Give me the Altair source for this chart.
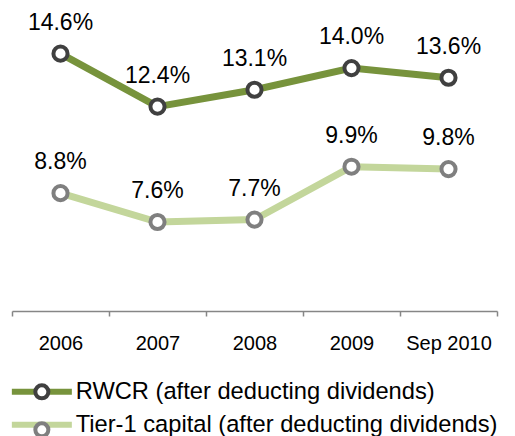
import altair as alt
import pandas as pd

periods = ["2006", "2007", "2008", "2009", "Sep 2010"]
rwcr = [14.6, 12.4, 13.1, 14.0, 13.6]
tier1 = [8.8, 7.6, 7.7, 9.9, 9.8]
series_names = [
    "RWCR (after deducting dividends)",
    "Tier-1 capital (after deducting dividends)",
]
line_colors = ["#77933C", "#C3D69B"]
ring_colors = ["#404040", "#7F7F7F"]

rows = []
for name, vals in zip(series_names, [rwcr, tier1]):
    for p, v in zip(periods, vals):
        rows.append(
            {"period": p, "value": v, "series": name, "ring": name, "label": f"{v:.1f}%"}
        )
df = pd.DataFrame(rows)

FONT = "Liberation Sans"

x = alt.X(
    "period:N",
    sort=periods,
    bandPosition=0.5,
    scale=alt.Scale(type="band", paddingInner=0, paddingOuter=0),
    axis=alt.Axis(
        title=None,
        labelAngle=0,
        tickBand="extent",
        ticks=True,
        tickSize=5,
        tickWidth=1.5,
        domainWidth=1.5,
        domainColor="#868686",
        tickColor="#868686",
        labelFontSize=20,
        labelColor="#000000",
        labelFont=FONT,
        labelPadding=17,
        grid=False,
    ),
)
y = alt.Y(
    "value:Q",
    scale=alt.Scale(domain=[3.9, 16], zero=False, nice=False),
    axis=None,
)

base = alt.Chart(df)

lines = base.mark_line(strokeWidth=7).encode(
    x=x,
    y=y,
    color=alt.Color(
        "series:N",
        scale=alt.Scale(domain=series_names, range=line_colors),
        legend=alt.Legend(
            title=None,
            orient="none",
            legendX=18,
            legendY=360,
            direction="vertical",
            symbolType="M-4,0H4",
            symbolSize=225,
            symbolStrokeWidth=6,
            symbolOpacity=1,
            rowPadding=8,
            labelOffset=22,
            labelFontSize=23.7,
            labelFont=FONT,
            labelColor="#000000",
            labelLimit=600,
        ),
    ),
)

points = base.mark_point(
    shape="circle", filled=True, fill="white", size=200, strokeWidth=4, opacity=1
).encode(
    x=x,
    y=y,
    stroke=alt.Stroke(
        "ring:N",
        scale=alt.Scale(range=ring_colors),
        legend=alt.Legend(
            title=None,
            orient="none",
            legendX=18,
            legendY=360,
            direction="vertical",
            symbolType="circle",
            symbolSize=170,
            symbolStrokeWidth=4,
            symbolFillColor="white",
            symbolOpacity=1,
            rowPadding=8,
            labelFontSize=23.7,
            labelFont=FONT,
            labelExpr="''",
            labelLimit=600,
        ),
    ),
)

labels = base.mark_text(
    dy=-24, fontSize=23, font=FONT, color="#000000", baseline="alphabetic"
).encode(x=x, y=y, text="label:N")

chart = (
    alt.layer(lines, points, labels)
    .properties(
        width=485,
        height=291,
        autosize=alt.AutoSizeParams(type="none"),
        padding={"left": 4, "top": 12, "right": 10, "bottom": 125},
        view=alt.ViewBackground(stroke=None, strokeWidth=0),
    )
    .configure_view(strokeWidth=0, stroke=None)
    .configure_axis(grid=False)
    .configure(background="white")
)

chart.save("out.html", embed_options={"renderer": "svg", "actions": False})
